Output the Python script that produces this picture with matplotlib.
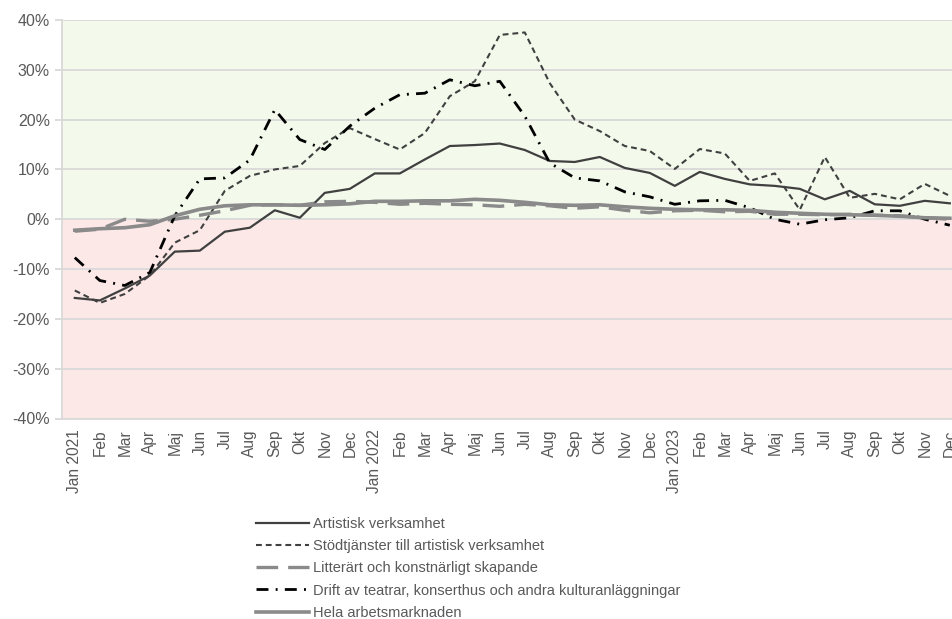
import matplotlib
matplotlib.use("Agg")
import matplotlib.pyplot as plt
from matplotlib.ticker import FuncFormatter

plt.rcParams['font.family'] = ['Liberation Sans', 'DejaVu Sans']

months = ["Jan 2021", "Feb", "Mar", "Apr", "Maj", "Jun", "Jul", "Aug", "Sep", "Okt", "Nov", "Dec",
          "Jan 2022", "Feb", "Mar", "Apr", "Maj", "Jun", "Jul", "Aug", "Sep", "Okt", "Nov", "Dec",
          "Jan 2023", "Feb", "Mar", "Apr", "Maj", "Jun", "Jul", "Aug", "Sep", "Okt", "Nov", "Dec"]

artistisk = [-15.8, -16.3, -13.9, -11.3, -6.5, -6.3, -2.5, -1.7, 1.8, 0.3, 5.3, 6.1,
             9.2, 9.2, 12.0, 14.7, 14.9, 15.2, 13.9, 11.7, 11.5, 12.5, 10.3, 9.3,
             6.7, 9.5, 8.1, 7.0, 6.7, 6.1, 4.0, 5.7, 3.0, 2.7, 3.7, 3.2]
stodtjanster = [-14.3, -16.8, -15.0, -11.3, -4.7, -2.2, 5.7, 8.7, 10.0, 10.7, 15.3, 18.3,
                16.1, 14.0, 17.3, 24.7, 27.7, 37.0, 37.5, 27.3, 20.0, 17.7, 14.7, 13.7,
                10.1, 14.1, 13.2, 7.7, 9.2, 1.9, 12.5, 4.3, 5.1, 4.0, 7.1, 4.7]
litterart = [-2.4, -2.0, 0.0, -0.4, 0.0, 0.8, 1.7, 2.8, 2.9, 2.8, 3.5, 3.6,
             3.4, 3.0, 3.2, 3.0, 2.9, 2.6, 3.0, 2.7, 2.2, 2.5, 1.8, 1.3,
             1.7, 1.8, 1.5, 1.6, 1.0, 1.0, 0.9, 1.0, 0.8, 0.7, 0.3, 0.0]
drift = [-7.7, -12.3, -13.3, -10.7, 0.7, 8.1, 8.3, 11.9, 22.0, 16.0, 14.0, 18.7,
         22.3, 25.0, 25.3, 28.0, 26.8, 27.7, 20.7, 11.3, 8.3, 7.7, 5.5, 4.5,
         3.0, 3.7, 3.8, 2.3, 0.0, -1.0, -0.1, 0.3, 1.7, 1.7, 0.0, -1.2]
hela = [-2.2, -1.9, -1.7, -1.1, 0.7, 2.0, 2.7, 2.9, 2.9, 2.8, 2.9, 3.1,
        3.6, 3.6, 3.7, 3.7, 4.0, 3.8, 3.4, 2.9, 2.8, 2.9, 2.5, 2.2,
        2.0, 1.9, 1.9, 1.8, 1.4, 1.2, 1.0, 0.9, 0.8, 0.6, 0.3, 0.2]

labels = ["Artistisk verksamhet", "Stödtjänster till artistisk verksamhet",
          "Litterärt och konstnärligt skapande",
          "Drift av teatrar, konserthus och andra kulturanläggningar",
          "Hela arbetsmarknaden"]

W, H = 952, 619
fig = plt.figure(figsize=(W / 100, H / 100), dpi=100)
ax = fig.add_axes([62.3 / W, (H - 418.5) / H, 900 / W, 398.5 / H])

x = list(range(len(months)))
ax.axhspan(0, 40, color='#f3f9eb', zorder=0)
ax.axhspan(-40, 0, color='#fde8e8', zorder=0)

ax.plot(x, artistisk, color='#404040', lw=1.6, label=labels[0], zorder=3)
ax.plot(x, stodtjanster, color='#404040', lw=1.5, dashes=(2.8, 1.9), label=labels[1], zorder=3)
ax.plot(x, litterart, color='#8a8a8a', lw=2.4, dashes=(6.5, 3.0), label=labels[2], zorder=3)
ax.plot(x, drift, color='#000000', lw=2.0, dashes=(4.3, 2.6, 0.7, 2.6), label=labels[3], zorder=3)
ax.plot(x, hela, color='#8a8a8a', lw=2.6, label=labels[4], zorder=3)

ax.set_xlim(-0.5, 35.5)
ax.set_ylim(-40, 40)
ax.set_yticks(range(-40, 41, 10))
ax.yaxis.set_major_formatter(FuncFormatter(lambda v, p: f"{int(v)}%"))
ax.set_xticks(x)
ax.set_xticklabels(months, rotation=90)
ax.grid(axis='y', color='#d9d9d9', lw=1.3, zorder=1)
ax.set_axisbelow(True)
for s in ['top', 'right']:
    ax.spines[s].set_visible(False)
for s in ['left', 'bottom']:
    ax.spines[s].set_color('#d9d9d9')
    ax.spines[s].set_linewidth(1.3)
ax.tick_params(axis='y', length=5, width=1.3, color='#d9d9d9', pad=4, labelsize=11.5, labelcolor='#595959')
ax.tick_params(axis='x', length=0, pad=8, labelsize=11.2, labelcolor='#595959')

leg = fig.legend(loc='upper left', bbox_to_anchor=(256 / W, 1 - 517 / H), frameon=False,
                 fontsize=10.5, handlelength=3.6, handletextpad=0.3, labelspacing=0.56,
                 borderpad=0, borderaxespad=0)
for t in leg.get_texts():
    t.set_color('#595959')

fig.savefig("out.png", dpi=100)
